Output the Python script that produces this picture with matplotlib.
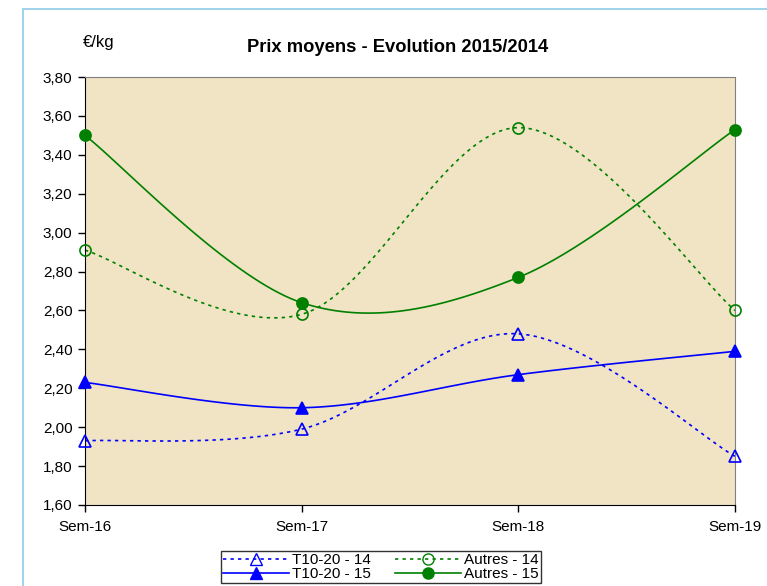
import matplotlib.pyplot as plt
import numpy as np
from matplotlib.patches import Rectangle
from matplotlib.lines import Line2D

plt.rcParams['font.family'] = ['Liberation Sans', 'DejaVu Sans']

semaines = ['Sem-16', 'Sem-17', 'Sem-18', 'Sem-19']
t1020_14 = [1.93, 1.99, 2.48, 1.85]
t1020_15 = [2.23, 2.10, 2.27, 2.39]
autres_14 = [2.91, 2.58, 3.54, 2.60]
autres_15 = [3.50, 2.64, 2.77, 3.53]
yticks = [1.60, 1.80, 2.00, 2.20, 2.40, 2.60, 2.80, 3.00, 3.20, 3.40, 3.60, 3.80]


def lisser(x, y, n=40):
    # courbe lissée facon Excel (bezier / catmull-rom)
    p = np.column_stack([x, y]).astype(float)
    p = np.vstack([p[0], p, p[-1]])
    xs, ys = [], []
    t = np.linspace(0, 1, n)
    for i in range(1, len(p) - 2):
        p0, p3 = p[i], p[i + 1]
        p1 = p0 + (p[i + 1] - p[i - 1]) / 6
        p2 = p3 - (p[i + 2] - p[i]) / 6
        b = ((1 - t) ** 3)[:, None] * p0 + (3 * (1 - t) ** 2 * t)[:, None] * p1 \
            + (3 * (1 - t) * t ** 2)[:, None] * p2 + (t ** 3)[:, None] * p3
        xs.extend(b[:, 0])
        ys.extend(b[:, 1])
    return xs, ys


fig = plt.figure(figsize=(7.67, 5.86), dpi=100)
fig.patches.append(Rectangle((23 / 767, -0.1), 1.1, 1 - 9 / 586 + 0.1, transform=fig.transFigure,
                             fill=False, edgecolor='#8fcbe8', linewidth=1.2))
ax = fig.add_axes([85 / 767, 1 - 505 / 586, 650 / 767, 428 / 586])
ax.set_facecolor('#f1e4c4')

x = np.arange(len(semaines))
series = [
    (t1020_14, 'T10-20 - 14', 'blue', (0, (2, 2.5)), '^', 'none'),
    (autres_14, 'Autres - 14', 'green', (0, (2, 2.5)), 'o', 'none'),
    (t1020_15, 'T10-20 - 15', 'blue', '-', '^', 'blue'),
    (autres_15, 'Autres - 15', 'green', '-', 'o', 'green'),
]
handles = {}
for vals, nom, coul, style, mark, fc in series:
    xs, ys = lisser(x, vals)
    ax.plot(xs, ys, color=coul, linestyle=style, linewidth=1.2, clip_on=False)
    ax.plot(x, vals, linestyle='none', marker=mark, markersize=8, markerfacecolor=fc,
            markeredgecolor=coul, markeredgewidth=1.2, clip_on=False, zorder=5)
    handles[nom] = Line2D([], [], color=coul, linestyle=style, linewidth=1.2, marker=mark,
                          markersize=8, markerfacecolor=fc, markeredgecolor=coul)

ax.set_xlim(0, 3)
ax.set_ylim(1.60, 3.80)
ax.set_xticks(x)
ax.set_xticklabels(semaines, fontsize=11)
ax.set_yticks(yticks)
ax.set_yticklabels([f'{v:.2f}'.replace('.', ',') for v in yticks], fontsize=11)
ax.tick_params(direction='out', length=5, width=1, pad=4)
ax.tick_params(axis='x', pad=6)
for s in ['top', 'right']:
    ax.spines[s].set_color('#808080')
for s in ['left', 'bottom']:
    ax.spines[s].set_color('black')

fig.text(83 / 767, 1 - 42 / 586, '€/kg', fontsize=12, va='center', ha='left')
fig.text(398 / 767, 1 - 48 / 586, 'Prix moyens - Evolution 2015/2014', fontsize=13.2,
         fontweight='bold', ha='center', va='center')

ordre = ['T10-20 - 14', 'T10-20 - 15', 'Autres - 14', 'Autres - 15']
leg = fig.legend([handles[k] for k in ordre], ordre, ncol=2, loc='center',
                 bbox_to_anchor=(381 / 767, 1 - 567 / 586), fontsize=11, frameon=True,
                 fancybox=False, edgecolor='black', handlelength=4.3, handletextpad=0.2,
                 columnspacing=1.6, labelspacing=0.0, borderpad=0.15)
leg.get_frame().set_linewidth(1)

fig.savefig('out.png', dpi=100)
